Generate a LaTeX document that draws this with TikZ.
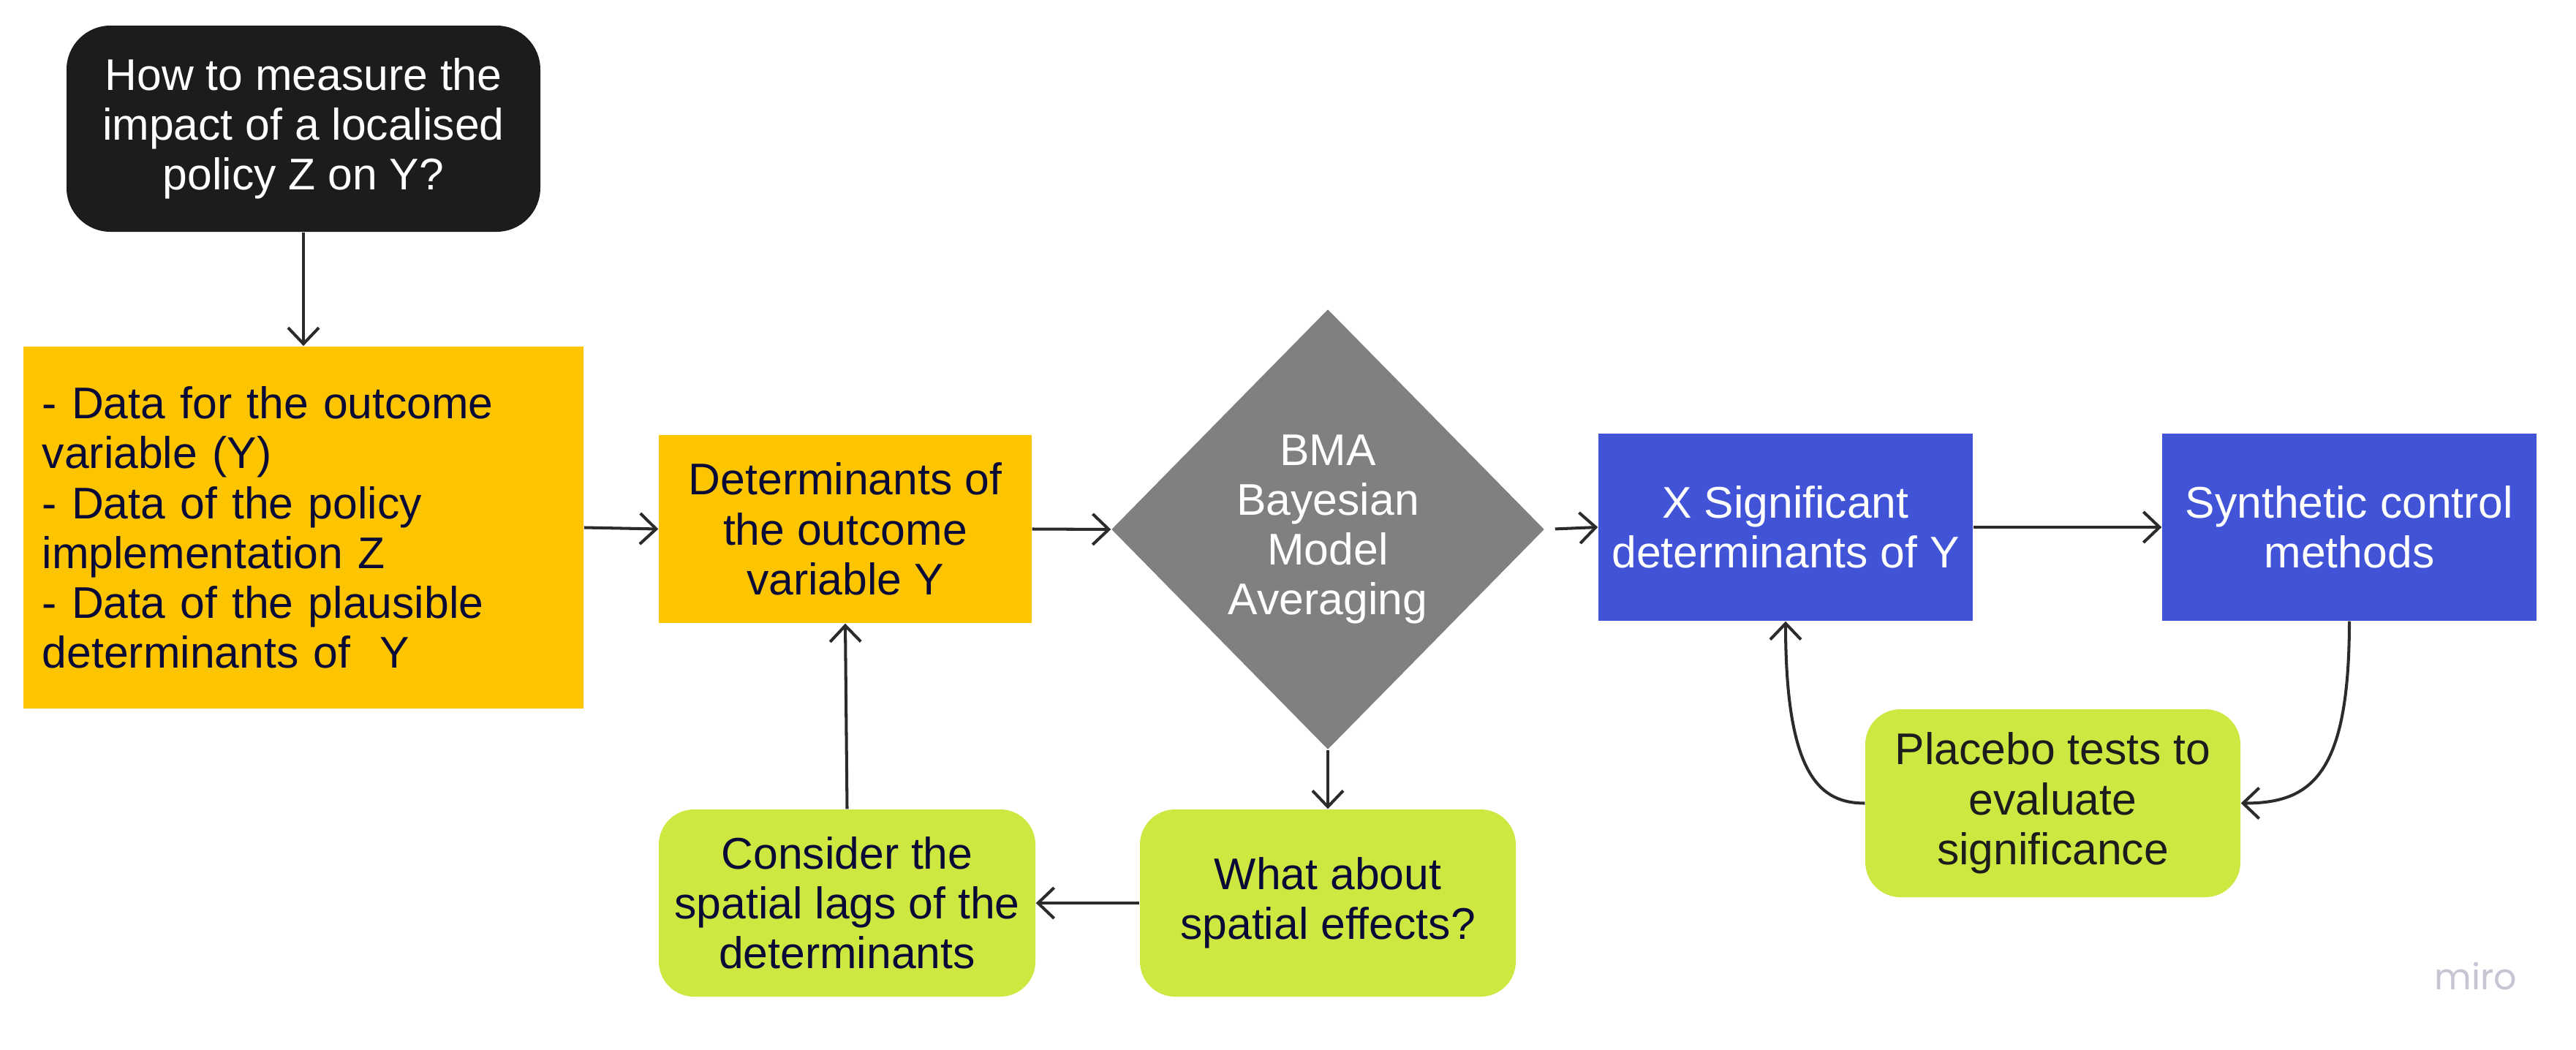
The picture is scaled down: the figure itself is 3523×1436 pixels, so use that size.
\documentclass[tikz,border=0pt]{standalone}
\usepackage{fontspec}
\setmainfont{Liberation Sans}
\newfontfamily\mirofont{Poppins}
\usetikzlibrary{arrows.meta,shapes.geometric}
\definecolor{qblack}{HTML}{1C1C1C}
\definecolor{qyellow}{HTML}{FDC500}
\definecolor{qgray}{HTML}{808080}
\definecolor{qblue}{HTML}{4153D7}
\definecolor{qgreen}{HTML}{CEE741}
\definecolor{navytext}{HTML}{0A0A36}
\definecolor{arrowc}{HTML}{2B2B2B}
\definecolor{miroc}{HTML}{C5C5D3}
\begin{document}
\begin{tikzpicture}[x=0.01cm,y=-0.01cm,
  txt/.style={font=\fontsize{17.25}{19.4}\selectfont, align=center},
  sz/.style 2 args={minimum width=#1*0.01cm, minimum height=#2*0.01cm, inner sep=0pt},
  blackbox/.style={txt, fill=qblack, text=white, rounded corners=0.6cm},
  yellowbox/.style={txt, fill=qyellow, text=navytext},
  bluebox/.style={txt, fill=qblue, text=white},
  greenbox/.style={txt, fill=qgreen, text=navytext, rounded corners=0.48cm},
  decision/.style={txt, shape=diamond, fill=qgray, text=white},
  conn/.style={draw=arrowc, line width=1.15pt, -{Straight Barb[length=2.2mm,width=4.2mm]}}
]
\useasboundingbox (0,0) rectangle (3523,1436);
\fill[white] (0,0) rectangle (3523,1436);

\node[blackbox, sz={648}{282}] (q) at (415,176) {How to measure the\\impact of a localised\\policy Z on Y?};
\node[yellowbox, minimum height=4.95cm, inner ysep=0pt, inner xsep=0.26cm, text width=7.14cm, align=left] (data) at (415,721.5)
  {- Data for the outcome\\variable (Y)\\- Data of the policy\\implementation Z\\- Data of the plausible\\determinants of\ \ Y};
\node[yellowbox, sz={510}{257}] (det) at (1156,723.5) {Determinants of\\the outcome\\variable Y};
\node[decision, sz={592}{602}] (bma) at (1816,724) {BMA\\Bayesian\\Model\\Averaging};
\node[bluebox, sz={512}{256}] (xsig) at (2442,721) {X Significant\\determinants of Y};
\node[bluebox, sz={512}{256}] (syn) at (3213,721) {Synthetic control\\methods};
\node[greenbox, sz={513}{257}, text=qblack] (plac) at (2807.5,1098.5) {Placebo tests to\\evaluate\\significance};
\node[greenbox, sz={515}{256}] (cons) at (1158.5,1235) {Consider the\\spatial lags of the\\determinants};
\node[greenbox, sz={514}{256}] (what) at (1816,1235) {What about\\spatial effects?};
\node[font=\mirofont\fontsize{14}{16}\selectfont, text=miroc, inner sep=0pt] (miro) at (3386,1335) {miro};

\draw[conn] (q.south) -- (data.north);
\draw[conn] (data.east) -- (det.west);
\draw[conn] (det.east) -- (bma.west);
\draw[conn, shorten <=4pt] (bma.east) -- (xsig.west);
\draw[conn] (xsig.east) -- (syn.west);
\draw[conn] (bma.south) -- (what.north);
\draw[conn] (what.west) -- (cons.east);
\draw[conn] (cons.north) -- (det.south);
\draw[conn] (syn.south) .. controls +(0,211) and +(96,0) .. (plac.east);
\draw[conn] (plac.west) .. controls +(-61,0) and +(0,211) .. (xsig.south);
\end{tikzpicture}
\end{document}
